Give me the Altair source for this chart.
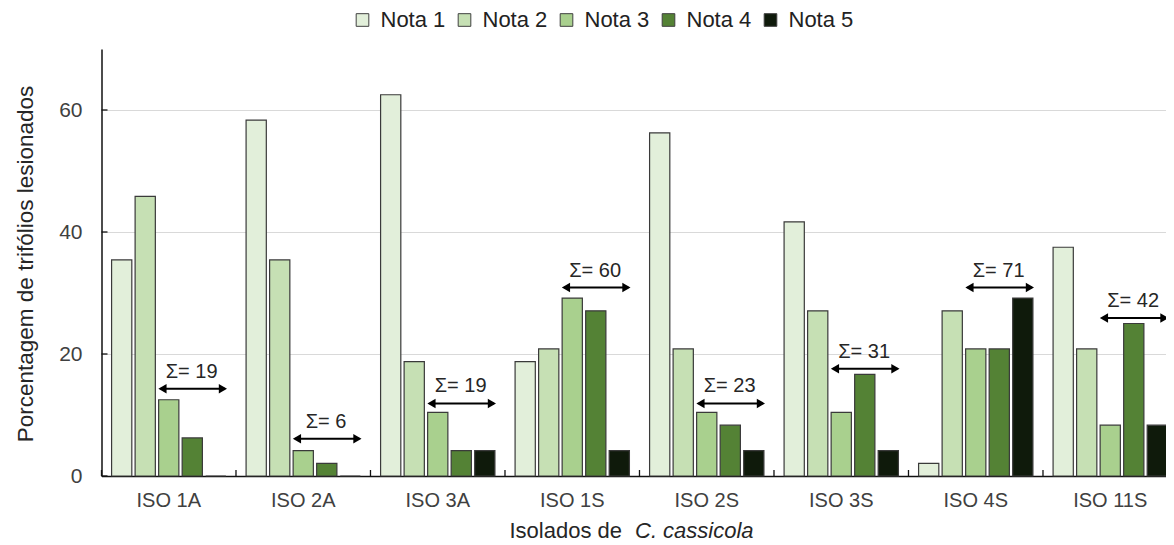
import altair as alt
import pandas as pd

isolados = ["ISO 1A", "ISO 2A", "ISO 3A", "ISO 1S", "ISO 2S", "ISO 3S", "ISO 4S", "ISO 11S"]
notas = ["Nota 1", "Nota 2", "Nota 3", "Nota 4", "Nota 5"]
nota1 = [35.42, 58.33, 62.50, 18.75, 56.25, 41.67, 2.08, 37.50]
nota2 = [45.83, 35.42, 18.75, 20.83, 20.83, 27.08, 27.08, 20.83]
nota3 = [12.50, 4.17, 10.42, 29.17, 10.42, 10.42, 20.83, 8.33]
nota4 = [6.25, 2.08, 4.17, 27.08, 8.33, 16.67, 20.83, 25.00]
nota5 = [0.0, 0.0, 4.17, 4.17, 4.17, 4.17, 29.17, 8.33]
arrow_level = [14.3, 6.1, 11.9, 30.9, 11.9, 17.6, 30.9, 25.9]
y_ticks = [0, 20, 40, 60]
colors = ["#e2efda", "#c6e0b4", "#a9d08e", "#548235", "#0f1a0b"]

FONT = "Liberation Sans"
series = [nota1, nota2, nota3, nota4, nota5]
rows = []
for n, vals in zip(notas, series):
    for iso, v in zip(isolados, vals):
        rows.append({"iso": iso, "nota": n, "pct": v})
df = pd.DataFrame(rows)

ann = pd.DataFrame({
    "iso": isolados,
    "level": arrow_level,
    "label": ["Σ= %d" % round(a + b + c) for a, b, c in zip(nota3, nota4, nota5)],
})
yt = pd.DataFrame({"v": y_ticks})
isodf = pd.DataFrame({"iso": isolados})

W, H = 1076, 427
B1, B2, BT = 0.41, 1.0, 0.70

xscale = alt.Scale(domain=isolados, paddingInner=0.15, paddingOuter=0.075)

bars = alt.Chart(df).mark_bar(stroke="#3a3a3a", strokeWidth=1.2).encode(
    x=alt.X("iso:N", sort=isolados, scale=xscale,
            axis=alt.Axis(title=None, labelFont=FONT, labelFontSize=20, labelColor="#404040",
                          labelPadding=14, ticks=False, tickSize=0, domainColor="#111111",
                          domainWidth=1.5, labelAngle=0, grid=False)),
    xOffset=alt.XOffset("nota:N", sort=notas,
                        scale=alt.Scale(domain=notas, paddingInner=0.14, paddingOuter=0)),
    y=alt.Y("pct:Q", scale=alt.Scale(domain=[0, 70], nice=False),
            axis=alt.Axis(title=None, values=y_ticks, labelFont=FONT, labelFontSize=21,
                          labelColor="#404040", labelPadding=19.5, ticks=False, tickSize=0,
                          domainColor="#111111", domainWidth=1.5, gridColor="#d9d9d9",
                          gridWidth=1)),
    color=alt.Color("nota:N", sort=notas, scale=alt.Scale(domain=notas, range=colors),
                    legend=alt.Legend(orient="none", legendX=250, legendY=-40,
                                      direction="horizontal", title=None,
                                      symbolType="square", symbolSize=160,
                                      symbolStrokeColor="#404040", symbolStrokeWidth=1,
                                      labelFont=FONT, labelFontSize=22, labelColor="#222222",
                                      labelOffset=7, columnPadding=8, padding=0)),
)

ytick_marks = alt.Chart(yt).mark_rule(color="#111111", strokeWidth=1.3).encode(
    y="v:Q", x=alt.value(0), x2=alt.value(6)
)
xtick_marks = alt.Chart(isodf).mark_rule(color="#111111", strokeWidth=1.3, xOffset=-10.1).encode(
    x=alt.X("iso:N", sort=isolados, bandPosition=0),
    y=alt.value(H), y2=alt.value(H - 6),
)

arrow_line = alt.Chart(ann).mark_rule(color="black", strokeWidth=2).encode(
    x=alt.X("iso:N", sort=isolados, bandPosition=B1 + 0.02),
    x2=alt.X2("iso", bandPosition=0.99),
    y="level:Q",
)
head_l = alt.Chart(ann).mark_point(shape="triangle-left", filled=True, color="black",
                                   size=90, opacity=1, xOffset=4).encode(
    x=alt.X("iso:N", sort=isolados, bandPosition=B1), y="level:Q"
)
head_r = alt.Chart(ann).mark_point(shape="triangle-right", filled=True, color="black",
                                   size=90, opacity=1, xOffset=-3).encode(
    x=alt.X("iso:N", sort=isolados, bandPosition=B2), y="level:Q"
)
ann_text = alt.Chart(ann).mark_text(font=FONT, fontSize=20, color="#262626",
                                    baseline="middle", dy=-17).encode(
    x=alt.X("iso:N", sort=isolados, bandPosition=BT), y="level:Q", text="label:N"
)

ytitle = alt.Chart(isodf.head(1)).mark_text(
    text="Porcentagem de trifólios lesionados", font=FONT, fontSize=22.5, color="#262626",
    angle=270, align="center", baseline="middle"
).encode(x=alt.value(-76), y=alt.value(215))

xtitle_a = alt.Chart(isodf.head(1)).mark_text(
    text="Isolados de", font=FONT, fontSize=22, color="#262626", align="right",
    baseline="alphabetic"
).encode(x=alt.value(520.5), y=alt.value(488.5))
xtitle_b = alt.Chart(isodf.head(1)).mark_text(
    text="C. cassicola", font=FONT, fontSize=22, fontStyle="italic", color="#262626",
    align="left", baseline="alphabetic"
).encode(x=alt.value(533.5), y=alt.value(488.5))

chart = alt.layer(
    bars, ytick_marks, xtick_marks, arrow_line, head_l, head_r, ann_text,
    ytitle, xtitle_a, xtitle_b
).properties(
    width=W, height=H,
    autosize=alt.AutoSizeParams(type="none"),
    padding={"left": 93.5, "top": 41, "right": -12, "bottom": 72},
    background="white",
).configure_view(stroke=None)

chart.save("out.html", embed_options={"renderer": "svg", "actions": False})
